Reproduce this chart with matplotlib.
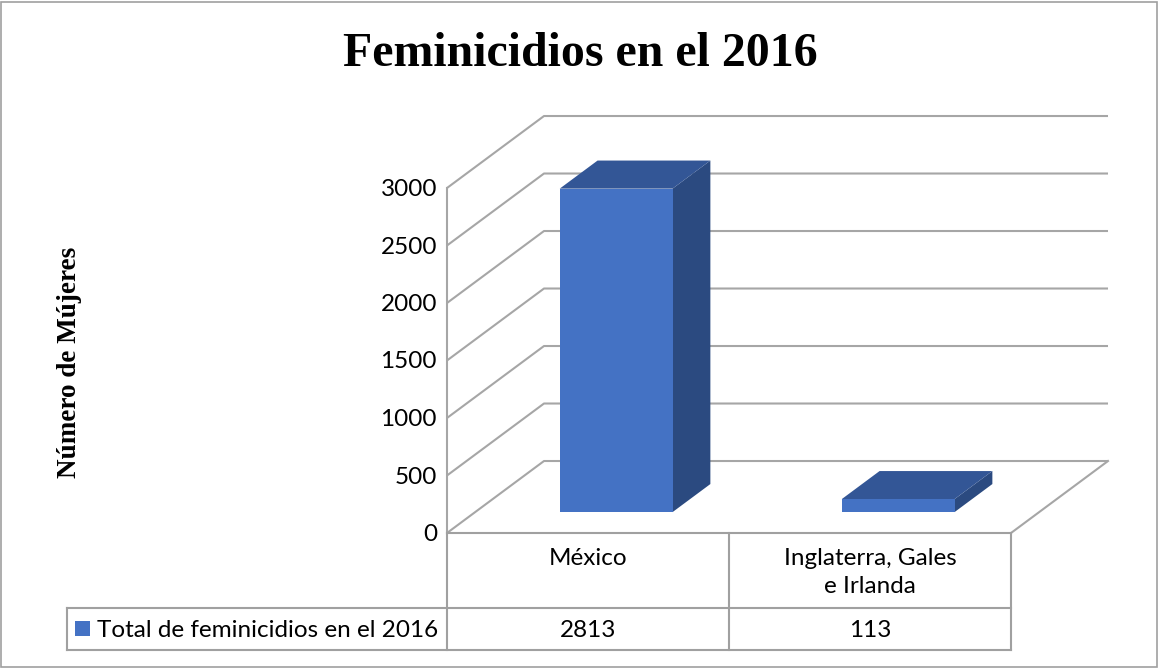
import matplotlib.pyplot as plt
from matplotlib.patches import Polygon, Rectangle
from matplotlib.lines import Line2D
from matplotlib.transforms import offset_copy

categories = ["México", "Inglaterra, Gales\ne Irlanda"]
values = [2813, 113]
series_name = "Total de feminicidios en el 2016"
ticks = [0, 500, 1000, 1500, 2000, 2500, 3000]
title = "Feminicidios en el 2016"
ylabel = "Número de Mújeres"

W, H = 1159, 668
fig = plt.figure(figsize=(W / 100, H / 100), dpi=100)
body = dict(family='Lato', fontsize=17.5, color='black')


def fx(px):
    return px / W


def fy(py):
    return 1 - py / H


# front plane of the 3d box: x in categories, y in values
ax = fig.add_axes([fx(447), fy(533), (1011 - 447) / W, (533 - 188) / H])
ax.set_xlim(0, len(categories))
ax.set_ylim(0, ticks[-1])
ax.axis('off')

# depth of the box (in category / value units)
DX, DY = 0.344, 626
grid_c = '#a6a6a6'
ncat = len(categories)

tick_tr = offset_copy(ax.transData, fig=fig, x=-10, y=-8, units='dots')
for t in ticks:
    ax.plot([0, DX, ncat + DX], [t, t + DY, t + DY], color=grid_c, lw=1.5,
            clip_on=False, zorder=1, solid_capstyle='butt')
    ax.text(0, t, str(t), ha='right', va='baseline', transform=tick_tr, **body)
ax.plot([0, 0], [0, ticks[-1]], color=grid_c, lw=1.5, clip_on=False, zorder=1)
ax.plot([ncat, ncat + DX], [0, DY], color=grid_c, lw=1.5, clip_on=False, zorder=1)

# 3d bars
front_c, top_c, side_c = '#4472c4', '#335696', '#2b4a80'
bar_w = 0.4
d0, dd = 0.29, 0.39
for i, v in enumerate(values):
    x0 = i + 0.5 - bar_w / 2 + d0 * DX
    y0 = d0 * DY
    x1 = x0 + bar_w
    ox, oy = dd * DX, dd * DY
    ax.add_patch(Polygon([(x1, y0), (x1 + ox, y0 + oy), (x1 + ox, y0 + oy + v), (x1, y0 + v)],
                         closed=True, facecolor=side_c, edgecolor='none', clip_on=False, zorder=3))
    ax.add_patch(Polygon([(x0, y0 + v), (x1, y0 + v), (x1 + ox, y0 + v + oy), (x0 + ox, y0 + v + oy)],
                         closed=True, facecolor=top_c, edgecolor='none', clip_on=False, zorder=3))
    ax.add_patch(Rectangle((x0, y0), bar_w, v, facecolor=front_c, edgecolor='none',
                           clip_on=False, zorder=4))


def cat_x(x):
    return fig.transFigure.inverted().transform(ax.transData.transform((x, 0)))[0]


# data table below the box
tab_c = '#a0a0a0'
row_top, row_mid, row_bot = fy(533), fy(608), fy(650)
left = fx(67)
edges = [cat_x(i) for i in range(ncat + 1)]
lines = [
    ([edges[0], edges[-1]], [row_top, row_top]),
    ([left, edges[-1]], [row_mid, row_mid]),
    ([left, edges[-1]], [row_bot, row_bot]),
    ([left, left], [row_mid, row_bot]),
]
for e in edges:
    lines.append(([e, e], [row_top, row_bot]))
for xs, ys in lines:
    fig.add_artist(Line2D(xs, ys, color=tab_c, lw=1.5))

for i, (c, v) in enumerate(zip(categories, values)):
    xc = (edges[i] + edges[i + 1]) / 2
    fig.text(xc, fy(548), c, ha='center', va='top', linespacing=1.4, **body)
    fig.text(xc, fy(637), str(v), ha='center', va='baseline', **body)

fig.add_artist(Rectangle((fx(75), fy(636)), fx(15), 15 / H, facecolor=front_c,
                         edgecolor='none', transform=fig.transFigure))
fig.text(fx(97), fy(637), series_name, ha='left', va='baseline', **body)

# titles
fig.text(fx(580), fy(66), title, ha='center', va='baseline', fontsize=34.5,
         family='Liberation Serif', weight='bold')
fig.text(fx(70), fy(362), ylabel, ha='center', va='center', rotation=90, fontsize=19.5,
         family='Liberation Serif', weight='bold')

# outer frame
fig.add_artist(Rectangle((fx(1.5), fy(666.5)), fx(1155), 665 / H, facecolor='none',
                         edgecolor='#a0a0a0', lw=1.2, transform=fig.transFigure))

fig.savefig('out.png', dpi=100, facecolor='white')
